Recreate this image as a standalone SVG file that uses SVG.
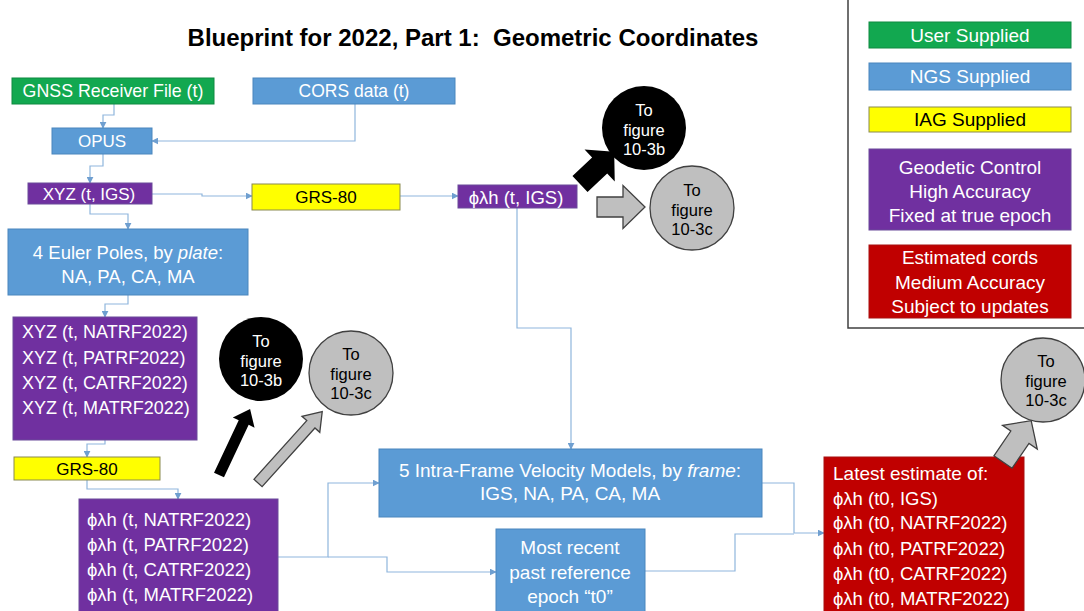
<svg xmlns="http://www.w3.org/2000/svg" width="1084" height="611" viewBox="0 0 1084 611">
<style>
  text { font-family: "Liberation Sans", Arial, sans-serif; dominant-baseline: central; }
  .t { fill: #ffffff; font-size: 17px; }
  .tb { fill: #000000; font-size: 17px; }
  .c { text-anchor: middle; }
  .l { font-size: 19px; }
  .m { font-size: 18.5px; }
  .green { fill: #12a850; stroke: #0e8a40; stroke-width: 1; }
  .blue { fill: #5b9bd5; stroke: #4a86bd; stroke-width: 1; }
  .yellow { fill: #ffff00; stroke: #8a8a50; stroke-width: 1; }
  .purple { fill: #7030a0; stroke: #6a4a9a; stroke-width: 1; }
  .red { fill: #c00000; stroke: #a81010; stroke-width: 1; }
  .conn { fill: none; stroke: #8fb6dd; stroke-width: 1.2; }
  .cb { fill: #000000; }
  .cg { fill: #bfbfbf; stroke: #404040; stroke-width: 1.3; }
  .ct { font-size: 16.5px; text-anchor: middle; }
</style>
<defs>
  <marker id="ah" viewBox="0 0 10 10" refX="9" refY="5" markerWidth="7" markerHeight="7" markerUnits="userSpaceOnUse" orient="auto">
    <path d="M0,0 L10,5 L0,10 z" fill="#6f9fd0"/>
  </marker>
</defs>
<rect width="1084" height="611" fill="#ffffff"/>

<text x="473" y="37" style="font-size:24px;font-weight:bold;text-anchor:middle" fill="#000">Blueprint for 2022, Part 1:&#160; Geometric Coordinates</text>

<g id="legend">
  <path d="M848,0 V328 H1084" fill="none" stroke="#404040" stroke-width="1.5"/>
  <rect class="green" x="869" y="22" width="202" height="26"/>
  <text class="t c l" x="970" y="35">User Supplied</text>
  <rect class="blue" x="869" y="63" width="202" height="27"/>
  <text class="t c l" x="970" y="76">NGS Supplied</text>
  <rect class="yellow" x="869" y="107" width="202" height="25"/>
  <text class="tb c l" x="970" y="119">IAG Supplied</text>
  <rect class="purple" x="869" y="149" width="202" height="81"/>
  <text class="t c l" x="970" y="167">Geodetic Control</text>
  <text class="t c l" x="970" y="191">High Accuracy</text>
  <text class="t c l" x="970" y="215">Fixed at true epoch</text>
  <rect class="red" x="869" y="245" width="202" height="73"/>
  <text class="t c l" x="970" y="257">Estimated cords</text>
  <text class="t c l" x="970" y="282">Medium Accuracy</text>
  <text class="t c l" x="970" y="306">Subject to updates</text>
</g>

<g id="connectors">
  <path class="conn" d="M114,104 V115 H103 V128" marker-end="url(#ah)"/>
  <path class="conn" d="M355,104 V141 H152" marker-end="url(#ah)"/>
  <path class="conn" d="M103,154 V166 H90 V183" marker-end="url(#ah)"/>
  <path class="conn" d="M152,194 H202 V196 H252" marker-end="url(#ah)"/>
  <path class="conn" d="M400,196 H458" marker-end="url(#ah)"/>
  <path class="conn" d="M90,204 V214 H128 V229" marker-end="url(#ah)"/>
  <path class="conn" d="M128,295 V304 H105 V317" marker-end="url(#ah)"/>
  <path class="conn" d="M105,440 V444 H87 V457" marker-end="url(#ah)"/>
  <path class="conn" d="M87,480 V489 H178 V499" marker-end="url(#ah)"/>
  <path class="conn" d="M517,208 V328 H571 V449" marker-end="url(#ah)"/>
  <path class="conn" d="M278,557 H328 V483 H379" marker-end="url(#ah)"/>
  <path class="conn" d="M328,557 H387 V572 H496" marker-end="url(#ah)"/>
  <path class="conn" d="M762,483 H794 V533 H824" marker-end="url(#ah)"/>
  <path class="conn" d="M645,571 H735 V534 H794"/>
</g>

<g id="gnss">
  <rect class="green" x="12" y="78" width="202" height="26"/>
  <text class="t c" x="113" y="91" style="font-size:17.8px">GNSS Receiver File (t)</text>
</g>
<g id="cors">
  <rect class="blue" x="253" y="78" width="202" height="26"/>
  <text class="t c" x="354" y="91" style="font-size:17.5px">CORS data (t)</text>
</g>
<g id="opus">
  <rect class="blue" x="52" y="128" width="100" height="26"/>
  <text class="t c" x="102" y="141">OPUS</text>
</g>
<g id="xyz-igs">
  <rect class="purple" x="28" y="183" width="124" height="21"/>
  <text class="t c" x="89" y="194">XYZ (t, IGS)</text>
</g>
<g id="grs80-top">
  <rect class="yellow" x="252" y="184" width="148" height="26"/>
  <text class="tb c" x="326" y="197">GRS-80</text>
</g>
<g id="plh-igs">
  <rect class="purple" x="458" y="185" width="119" height="23"/>
  <text class="t c" x="516" y="197" style="font-size:18.5px">ϕλh (t, IGS)</text>
</g>
<g id="euler">
  <rect class="blue" x="8" y="229" width="240" height="66"/>
  <text class="t c m" x="128" y="252">4 Euler Poles, by <tspan font-style="italic">plate</tspan>:</text>
  <text class="t c m" x="128" y="276">NA, PA, CA, MA</text>
</g>
<g id="xyz-frames">
  <rect class="purple" x="13" y="317" width="184" height="123"/>
  <text class="t" x="22" y="332" style="font-size:18px">XYZ (t, NATRF2022)</text>
  <text class="t" x="22" y="358" style="font-size:18px">XYZ (t, PATRF2022)</text>
  <text class="t" x="22" y="383" style="font-size:18px">XYZ (t, CATRF2022)</text>
  <text class="t" x="22" y="408" style="font-size:18px">XYZ (t, MATRF2022)</text>
</g>
<g id="grs80-bottom">
  <rect class="yellow" x="14" y="457" width="146" height="23"/>
  <text class="tb c" x="87" y="469">GRS-80</text>
</g>
<g id="plh-frames">
  <rect class="purple" x="79" y="499" width="199" height="114"/>
  <text class="t m" x="87" y="519">ϕλh (t, NATRF2022)</text>
  <text class="t m" x="87" y="544">ϕλh (t, PATRF2022)</text>
  <text class="t m" x="87" y="569">ϕλh (t, CATRF2022)</text>
  <text class="t m" x="87" y="594">ϕλh (t, MATRF2022)</text>
</g>
<g id="velocity">
  <rect class="blue" x="379" y="449" width="383" height="68"/>
  <text class="t c l" x="570" y="470">5 Intra-Frame Velocity Models, by <tspan font-style="italic">frame</tspan>:</text>
  <text class="t c l" x="570" y="493">IGS, NA, PA, CA, MA</text>
</g>
<g id="epoch">
  <rect class="blue" x="496" y="529" width="149" height="84"/>
  <text class="t c l" x="570" y="547">Most recent</text>
  <text class="t c l" x="570" y="572">past reference</text>
  <text class="t c l" x="570" y="596">epoch “t0”</text>
</g>
<g id="latest">
  <rect class="red" x="824" y="457" width="200" height="156"/>
  <text class="t l" x="833" y="473">Latest estimate of:</text>
  <text class="t m" x="833" y="498">ϕλh (t0, IGS)</text>
  <text class="t m" x="833" y="522">ϕλh (t0, NATRF2022)</text>
  <text class="t m" x="833" y="548">ϕλh (t0, PATRF2022)</text>
  <text class="t m" x="833" y="573">ϕλh (t0, CATRF2022)</text>
  <text class="t m" x="833" y="598">ϕλh (t0, MATRF2022)</text>
</g>

<g id="fig-top-b">
  <circle class="cb" cx="644" cy="128" r="42"/>
  <text class="ct" x="644" y="110" fill="#fff">To</text>
  <text class="ct" x="644" y="130" fill="#fff">figure</text>
  <text class="ct" x="644" y="149" fill="#fff">10-3b</text>
</g>
<g id="fig-top-c">
  <circle class="cg" cx="692" cy="208" r="42"/>
  <text class="ct" x="692" y="190" fill="#000">To</text>
  <text class="ct" x="692" y="210" fill="#000">figure</text>
  <text class="ct" x="692" y="229" fill="#000">10-3c</text>
</g>
<g id="fig-left-b">
  <circle class="cb" cx="261" cy="359" r="42"/>
  <text class="ct" x="261" y="341" fill="#fff">To</text>
  <text class="ct" x="261" y="361" fill="#fff">figure</text>
  <text class="ct" x="261" y="380" fill="#fff">10-3b</text>
</g>
<g id="fig-left-c">
  <circle class="cg" cx="351" cy="373" r="42"/>
  <text class="ct" x="351" y="354" fill="#000">To</text>
  <text class="ct" x="351" y="374" fill="#000">figure</text>
  <text class="ct" x="351" y="393" fill="#000">10-3c</text>
</g>
<g id="fig-right-c">
  <circle class="cg" cx="1043" cy="380" r="42"/>
  <text class="ct" x="1046" y="361" fill="#000">To</text>
  <text class="ct" x="1046" y="381" fill="#000">figure</text>
  <text class="ct" x="1046" y="400" fill="#000">10-3c</text>
</g>

<g id="block-arrows">
  <polygon class="cb" transform="translate(580,184) rotate(-43.3)" points="0,-11 27,-11 27,-22 47,0 27,22 27,11 0,11"/>
  <polygon class="cg" transform="translate(597,207)" points="0,-10 26,-10 26,-21.5 48,0 26,21.5 26,10 0,10"/>
  <polygon class="cb" transform="translate(219,475) rotate(-64.8)" points="0,-5.5 58,-5.5 58,-12 73,0 58,12 58,5.5 0,5.5"/>
  <polygon class="cg" transform="translate(258,483) rotate(-48)" points="0,-5.5 79,-5.5 79,-12 96,0 79,12 79,5.5 0,5.5"/>
  <polygon class="cg" transform="translate(1003,462) rotate(-55.7)" points="0,-11 30,-11 30,-21 50,0 30,21 30,11 0,11"/>
</g>
</svg>
